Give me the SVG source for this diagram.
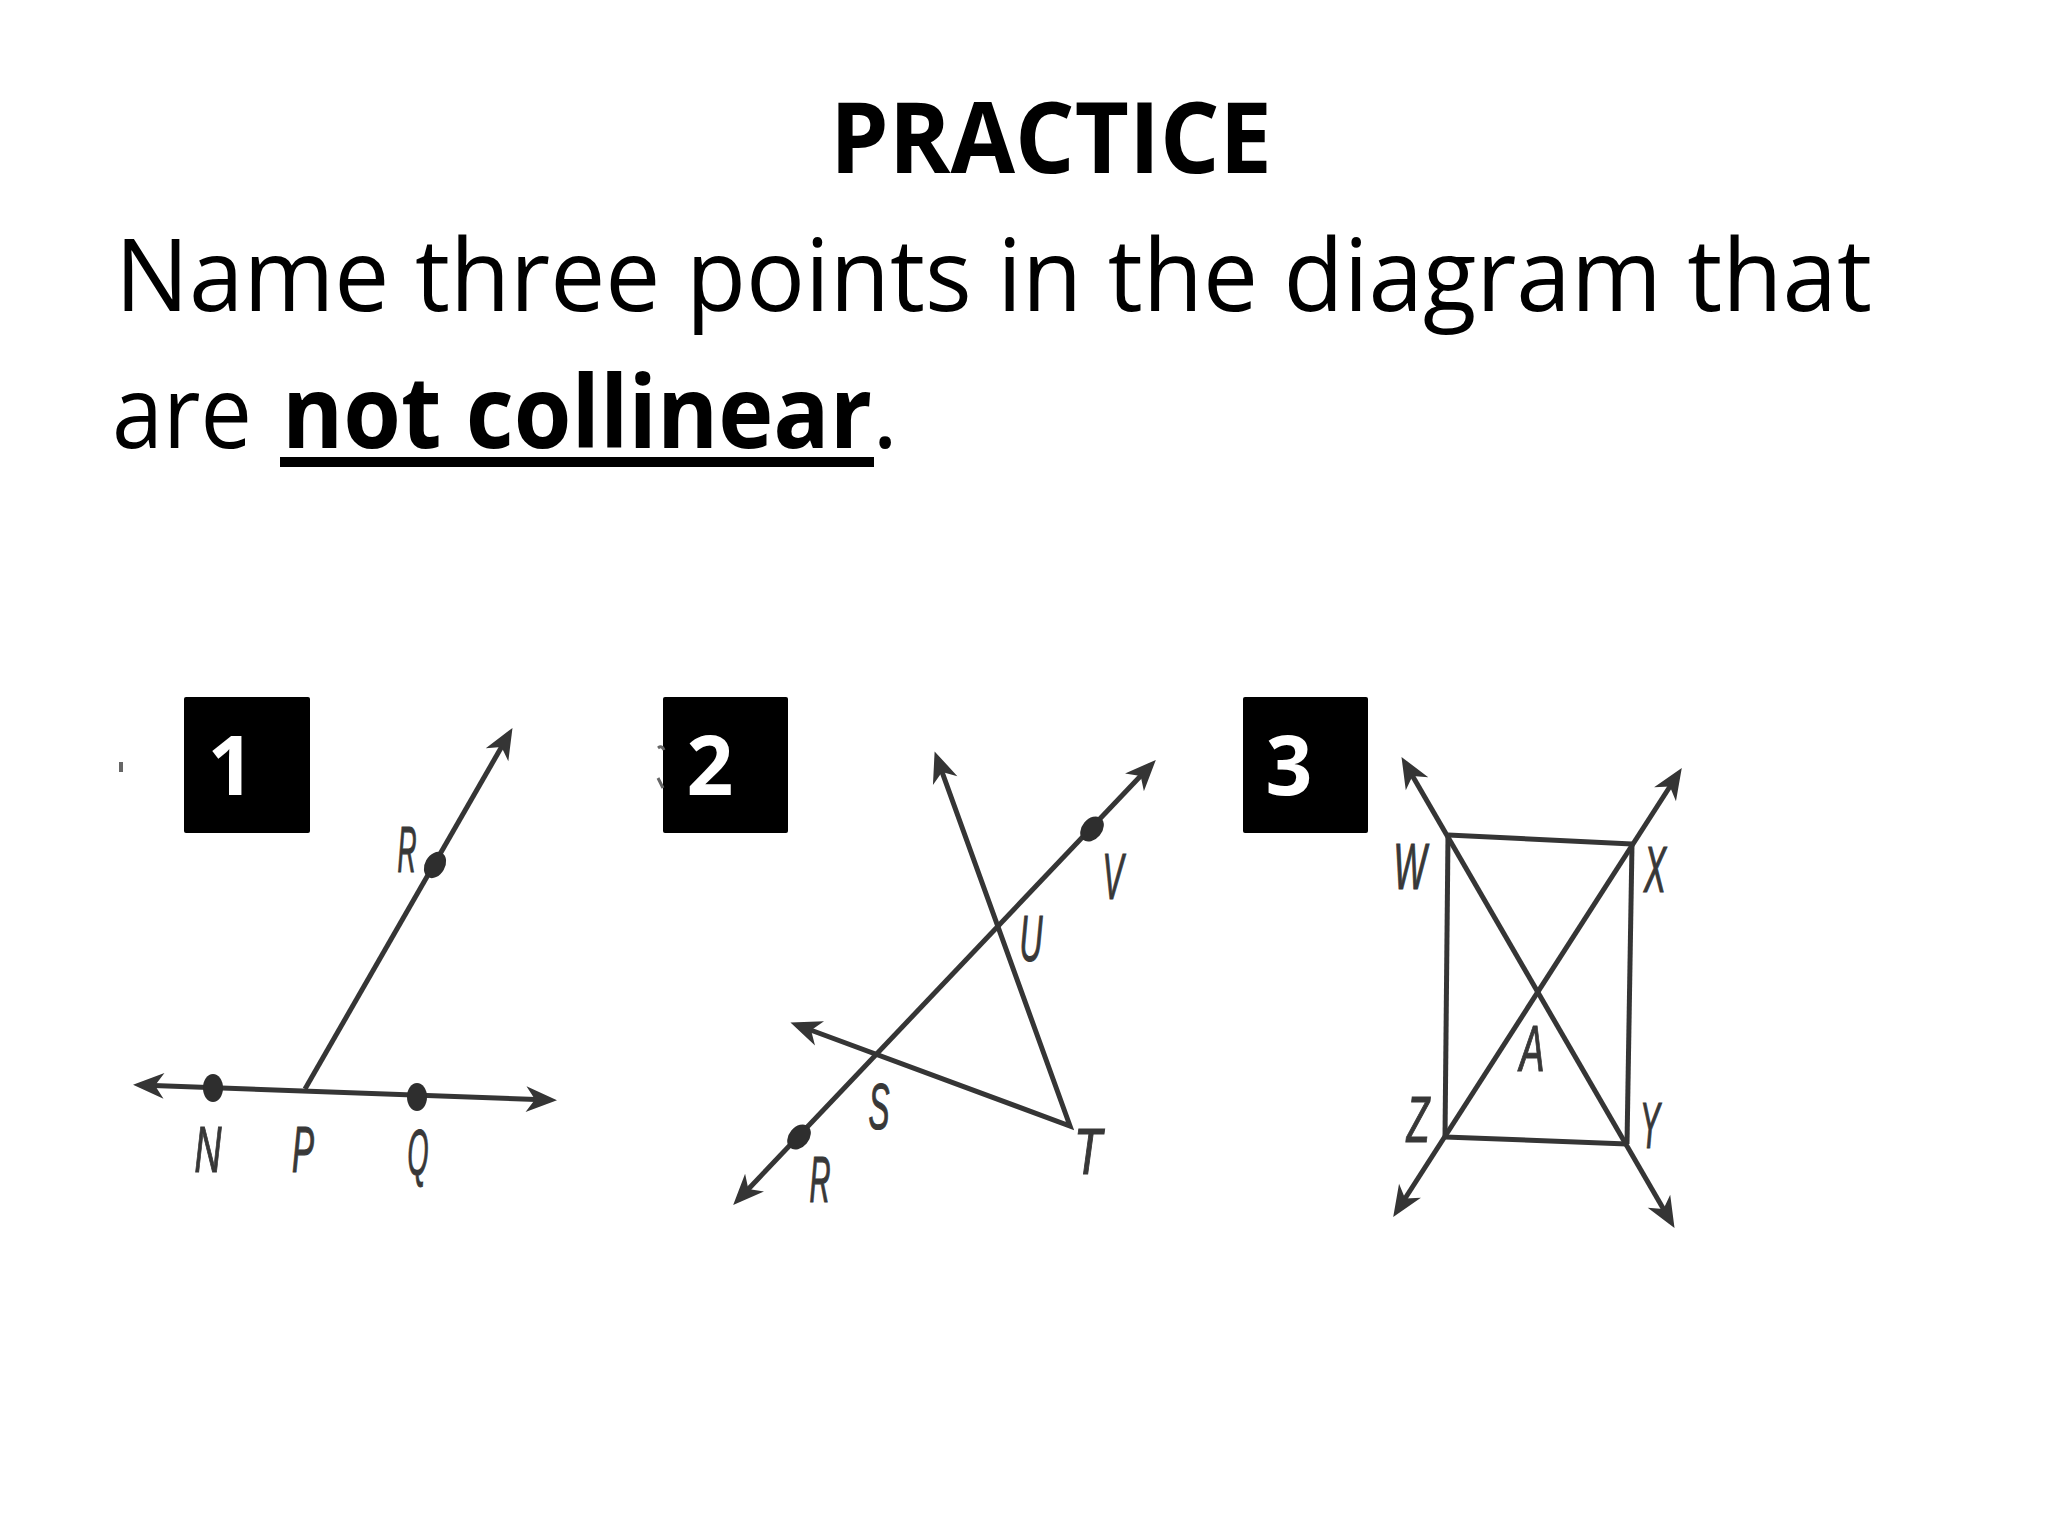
<svg xmlns="http://www.w3.org/2000/svg" width="2048" height="1536" viewBox="0 0 2048 1536">
<style>
.title{font-family:"Open Sans","Liberation Sans",sans-serif;font-weight:bold;fill:#000}
.body{font-family:"Open Sans","Liberation Sans",sans-serif;fill:#000}
.num{font-family:"Open Sans","Liberation Sans",sans-serif;font-weight:bold;fill:#fff;font-size:82px;text-anchor:middle}
.lbl{font-family:"Liberation Sans","DejaVu Sans",sans-serif;font-style:italic;font-size:64px;fill:#383838;stroke:#383838;stroke-width:1.2;text-anchor:middle}
.ln{fill:none;stroke:#353535;stroke-width:5}
.arr{marker-start:url(#ah);marker-end:url(#ah)}
.dot{fill:#2e2e2e}
.box{fill:#000}
</style>
<defs>
<marker id="ah" viewBox="-36 -16 38 32" refX="-7" refY="0" markerWidth="38" markerHeight="32" markerUnits="userSpaceOnUse" orient="auto-start-reverse">
<path d="M0,0 L-31,-13 L-22,0 L-31,13 Z" fill="#353535"/>
</marker>
</defs>
<rect width="2048" height="1536" fill="#fff"/>
<g id="heading">
<text class="title" x="1051" y="173" font-size="98" text-anchor="middle" textLength="442" lengthAdjust="spacingAndGlyphs">PRACTICE</text>
<text class="body" x="115" y="311" font-size="100" textLength="1757" lengthAdjust="spacingAndGlyphs">Name three points in the diagram that</text>
<text class="body" x="112" y="448" font-size="100" textLength="140" lengthAdjust="spacingAndGlyphs">are</text>
<text class="body" x="282" y="448" font-size="100" font-weight="bold" textLength="590" lengthAdjust="spacingAndGlyphs">not collinear</text>
<rect x="280" y="457" width="594" height="10" fill="#000"/>
<text class="body" x="872" y="448" font-size="100">.</text>
</g>
<g id="badge1"><rect class="box" x="184" y="697" width="126" height="136" rx="2"/><text class="num" x="231" y="795">1</text></g>
<g id="badge2"><rect class="box" x="663" y="697" width="125" height="136" rx="2"/><text class="num" x="710" y="795">2</text></g>
<g id="badge3"><rect class="box" x="1243" y="697" width="125" height="136" rx="2"/><text class="num" x="1289" y="795">3</text></g>
<g id="stray">
<rect x="119" y="762" width="4" height="10" fill="#666"/>
<path d="M658,748 q4,-3 6,2 M658,778 l5,10" stroke="#666" stroke-width="3" fill="none"/>
</g>
<g id="figure1">
<g id="connectors1">
<path class="ln arr" d="M140,1085 L550,1100" stroke-width="6"/>
<path class="ln" d="M305,1089 L509,734" style="marker-end:url(#ah)" stroke-width="4.5"/>
</g>
<g id="pt-N"><ellipse class="dot" cx="213" cy="1088" rx="10" ry="14"/><text class="lbl" x="208" y="1172" textLength="27" lengthAdjust="spacingAndGlyphs">N</text></g>
<g id="pt-P"><text class="lbl" x="303" y="1172" textLength="22" lengthAdjust="spacingAndGlyphs">P</text></g>
<g id="pt-Q"><ellipse class="dot" cx="417" cy="1097" rx="10" ry="14"/><text class="lbl" x="418" y="1175" textLength="21" lengthAdjust="spacingAndGlyphs">Q</text></g>
<g id="pt-R1"><ellipse class="dot" cx="435" cy="865" rx="10" ry="14" transform="rotate(30 435 865)"/><text class="lbl" x="407" y="872" textLength="19" lengthAdjust="spacingAndGlyphs">R</text></g>
</g>
<g id="figure2">
<g id="connectors2">
<path class="ln arr" d="M738,1200 L1151,765"/>
<path class="ln" d="M937,758 L1070,1126 L797,1025" style="marker-start:url(#ah);marker-end:url(#ah)" stroke-linejoin="miter"/>
</g>
<g id="pt-R2"><ellipse class="dot" cx="799" cy="1137" rx="10" ry="14" transform="rotate(40 799 1137)"/><text class="lbl" x="820" y="1202" textLength="21" lengthAdjust="spacingAndGlyphs">R</text></g>
<g id="pt-S"><text class="lbl" x="879" y="1129" textLength="21" lengthAdjust="spacingAndGlyphs">S</text></g>
<g id="pt-T"><text class="lbl" x="1088" y="1174" textLength="28" lengthAdjust="spacingAndGlyphs">T</text></g>
<g id="pt-U"><text class="lbl" x="1031" y="961" textLength="23" lengthAdjust="spacingAndGlyphs">U</text></g>
<g id="pt-V"><ellipse class="dot" cx="1092" cy="829" rx="10" ry="14" transform="rotate(40 1092 829)"/><text class="lbl" x="1113" y="899" textLength="21" lengthAdjust="spacingAndGlyphs">V</text></g>
</g>
<g id="figure3">
<g id="connectors3">
<path class="ln" d="M1448,835 L1632,844" stroke-width="6"/>
<path class="ln" d="M1445,1137 L1627,1144" stroke-width="6"/>
<path class="ln" d="M1448,835 L1445,1137" stroke-width="4.5"/>
<path class="ln" d="M1632,844 L1627,1144" stroke-width="4.5"/>
<path class="ln arr" d="M1397,1211 L1678,774"/>
<path class="ln arr" d="M1405,763 L1671,1222"/>
</g>
<g id="pt-W"><text class="lbl" x="1410" y="889" textLength="33" lengthAdjust="spacingAndGlyphs">W</text></g>
<g id="pt-X"><text class="lbl" x="1655" y="892" textLength="22" lengthAdjust="spacingAndGlyphs">X</text></g>
<g id="pt-Y"><text class="lbl" x="1650" y="1148" textLength="20" lengthAdjust="spacingAndGlyphs">Y</text></g>
<g id="pt-Z"><text class="lbl" x="1418" y="1142" textLength="23" lengthAdjust="spacingAndGlyphs">Z</text></g>
<g id="pt-A"><text class="lbl" x="1532" y="1071" textLength="25" lengthAdjust="spacingAndGlyphs">A</text></g>
</g>
</svg>
